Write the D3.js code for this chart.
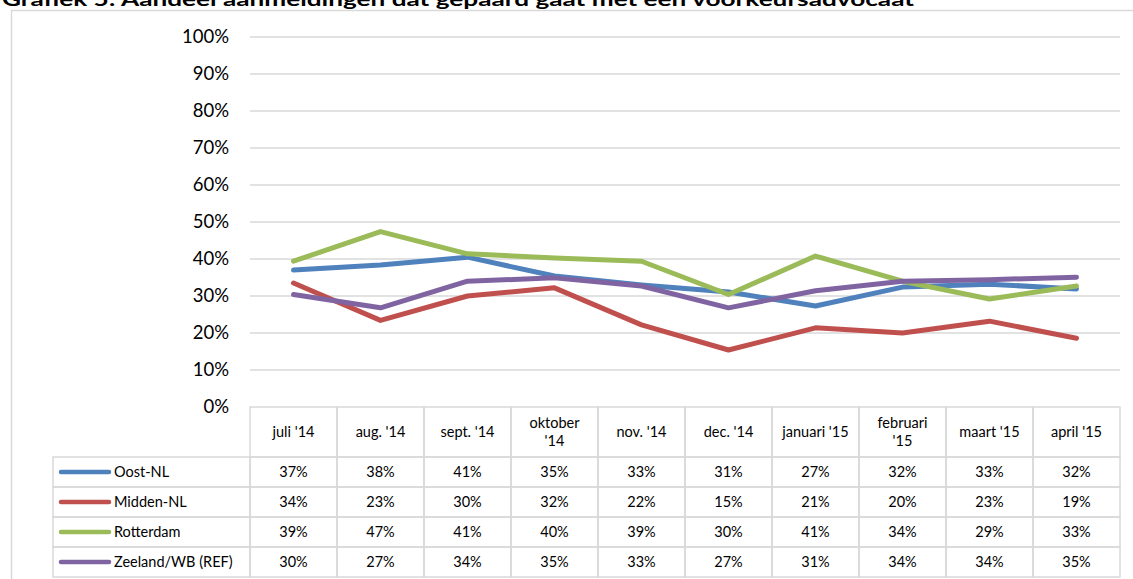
<!DOCTYPE html>
<html>
<head>
<meta charset="utf-8">
<script src="https://cdn.jsdelivr.net/npm/d3@7/dist/d3.min.js"></script>
<style>
  body { margin: 0; background: #fff; }
  svg { display: block; font-family: Lato, "Liberation Sans", sans-serif; }
</style>
</head>
<body>
<svg id="chart" width="1133" height="579"></svg>
<script>
// months (table header), two-line labels split on '\n'
const months = ["juli '14", "aug. '14", "sept. '14", "oktober\n'14", "nov. '14",
                "dec. '14", "januari '15", "februari\n'15", "maart '15", "april '15"];
const seriesNames = ["Oost-NL", "Midden-NL", "Rotterdam", "Zeeland/WB (REF)"];
const colors = ["#4F81BD", "#C0504D", "#9BBB59", "#8064A2"];
// values as plotted (percent; table shows them rounded)
const oost = [37.0, 38.4, 40.5, 35.4, 33.0, 31.1, 27.3, 32.4, 33.2, 31.9];
const midden = [33.5, 23.4, 30.0, 32.2, 22.2, 15.4, 21.4, 20.0, 23.2, 18.6];
const rotterdam = [39.4, 47.4, 41.4, 40.3, 39.4, 30.4, 40.8, 34.0, 29.2, 32.7];
const zeeland = [30.4, 26.8, 34.0, 34.9, 32.7, 26.8, 31.4, 34.0, 34.4, 35.1];
const yTicks = [0, 10, 20, 30, 40, 50, 60, 70, 80, 90, 100];
const title = "Grafiek 5: Aandeel aanmeldingen dat gepaard gaat met een voorkeursadvocaat";

const allSeries = [oost, midden, rotterdam, zeeland];

const svg = d3.select('#chart');
const grid = '#d9d9d9';

// frame + title
svg.append('rect')
    .attr('x', 11.5).attr('y', 10.5)
    .attr('width', 1140).attr('height', 600)
    .attr('fill', 'none').attr('stroke', grid).attr('stroke-width', 1.5);

svg.append('text')
    .attr('x', 2).attr('y', 6)
    .attr('font-size', 19).attr('font-weight', 'bold')
    .attr('textLength', 912).attr('lengthAdjust', 'spacingAndGlyphs')
    .text(title);

const plotLeft = 250, plotRight = 1120, plotTop = 37, plotBottom = 407;

const x = d3.scaleBand().domain(months).range([plotLeft, plotRight]);
const y = d3.scaleLinear().domain([0, 100]).range([plotBottom, plotTop]);

// gridlines
svg.append('g')
    .selectAll('line')
    .data(yTicks.filter(d => d > 0))
    .join('line')
    .attr('x1', plotLeft).attr('x2', plotRight)
    .attr('y1', d => y(d)).attr('y2', d => y(d))
    .attr('stroke', grid).attr('stroke-width', 1.5);

// y axis
const yAxis = svg.append('g')
    .attr('transform', `translate(${plotLeft},0)`)
    .call(d3.axisLeft(y).tickValues(yTicks).tickFormat(d => d + '%').tickSize(0).tickPadding(21));
yAxis.select('.domain').remove();
yAxis.selectAll('text')
    .attr('font-size', 18.5).attr('fill', '#000')
    .attr('font-family', 'Lato, sans-serif');

// table
const rowH = 30, headH = 50;
const tableTop = plotBottom;
const legendLeft = 53;
const tbl = svg.append('g');

// header cells
tbl.selectAll('rect.head')
    .data(months)
    .join('rect')
    .attr('class', 'head')
    .attr('x', d => x(d)).attr('y', tableTop)
    .attr('width', x.bandwidth()).attr('height', headH)
    .attr('fill', 'none').attr('stroke', grid).attr('stroke-width', 1.5);

tbl.selectAll('text.head')
    .data(months)
    .join('text')
    .attr('class', 'head')
    .attr('x', d => x(d) + x.bandwidth() / 2)
    .attr('text-anchor', 'middle')
    .attr('font-size', 14.5)
    .each(function (d) {
        const parts = d.split('\n');
        const t = d3.select(this);
        const y0 = tableTop + headH / 2 + 5 - (parts.length - 1) * 9;
        parts.forEach((p, i) => {
            t.append('tspan')
                .attr('x', x(d) + x.bandwidth() / 2)
                .attr('y', y0 + i * 18)
                .text(p);
        });
    });

// data rows
allSeries.forEach((vals, r) => {
    const ry = tableTop + headH + r * rowH;
    const row = tbl.append('g');
    row.append('rect')
        .attr('x', legendLeft).attr('y', ry)
        .attr('width', plotLeft - legendLeft).attr('height', rowH)
        .attr('fill', 'none').attr('stroke', grid).attr('stroke-width', 1.5);
    row.append('line')
        .attr('x1', 61).attr('x2', 109)
        .attr('y1', ry + rowH / 2).attr('y2', ry + rowH / 2)
        .attr('stroke', colors[r]).attr('stroke-width', 4.5)
        .attr('stroke-linecap', 'round');
    row.append('text')
        .attr('x', 114).attr('y', ry + rowH / 2 + 5)
        .attr('font-size', 14.5)
        .text(seriesNames[r]);
    row.selectAll('rect.cell')
        .data(months)
        .join('rect')
        .attr('class', 'cell')
        .attr('x', d => x(d)).attr('y', ry)
        .attr('width', x.bandwidth()).attr('height', rowH)
        .attr('fill', 'none').attr('stroke', grid).attr('stroke-width', 1.5);
    row.selectAll('text.cell')
        .data(vals)
        .join('text')
        .attr('class', 'cell')
        .attr('x', (d, i) => x(months[i]) + x.bandwidth() / 2)
        .attr('y', ry + rowH / 2 + 5)
        .attr('text-anchor', 'middle')
        .attr('font-size', 14.5)
        .text(d => Math.round(d) + '%');
});

// lines
const line = d3.line()
    .x((d, i) => x(months[i]) + x.bandwidth() / 2)
    .y(d => y(d));

svg.append('g')
    .selectAll('path')
    .data(allSeries)
    .join('path')
    .attr('d', line)
    .attr('fill', 'none')
    .attr('stroke', (d, i) => colors[i])
    .attr('stroke-width', 5)
    .attr('stroke-linejoin', 'round')
    .attr('stroke-linecap', 'round');
</script>
</body>
</html>
